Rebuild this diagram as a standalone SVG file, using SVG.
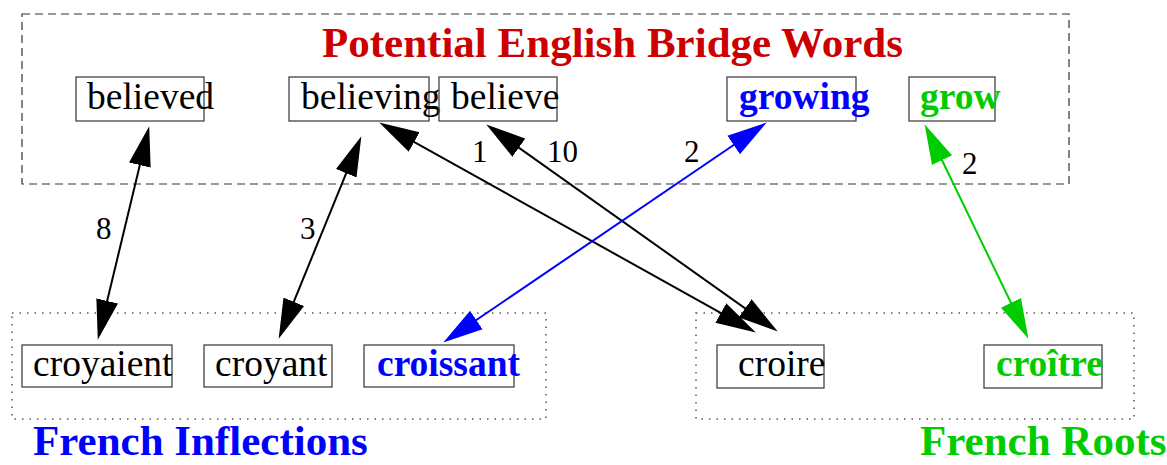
<svg xmlns="http://www.w3.org/2000/svg" width="1167" height="465" viewBox="0 0 1167 465">
<style>
.box{fill:none;stroke:#444;stroke-width:1.3}
.w{font-family:"Liberation Serif","Times New Roman",serif;font-size:37.5px;fill:#000}
.b{font-weight:bold}
.lbl{font-family:"Liberation Serif","Times New Roman",serif;font-size:31px;fill:#000}
.ttl{font-family:"Liberation Serif","Times New Roman",serif;font-size:43px;font-weight:bold}
.edge{stroke-width:2;fill:none}
</style>
<defs>
<marker id="ak" markerUnits="userSpaceOnUse" markerWidth="40" markerHeight="24" viewBox="0 0 36 20" refX="28" refY="10" orient="auto-start-reverse"><path d="M0,0 L36,10 L0,20 Z" fill="#000"/></marker>
<marker id="ab" markerUnits="userSpaceOnUse" markerWidth="40" markerHeight="24" viewBox="0 0 36 20" refX="28" refY="10" orient="auto-start-reverse"><path d="M0,0 L36,10 L0,20 Z" fill="#0000ff"/></marker>
<marker id="ag" markerUnits="userSpaceOnUse" markerWidth="40" markerHeight="24" viewBox="0 0 36 20" refX="28" refY="10" orient="auto-start-reverse"><path d="M0,0 L36,10 L0,20 Z" fill="#00cc00"/></marker>
</defs>
<rect width="1167" height="465" fill="#fff"/>
<g id="clusters">
<rect x="22" y="14" width="1047" height="170" fill="none" stroke="#333" stroke-width="1.2" stroke-dasharray="8,5"/>
<rect x="12" y="313" width="534" height="106" fill="none" stroke="#555" stroke-width="1.5" stroke-dasharray="1.5,6"/>
<rect x="696" y="313" width="438" height="106" fill="none" stroke="#555" stroke-width="1.5" stroke-dasharray="1.5,6"/>
<text class="ttl" x="322" y="57" fill="#cc0000">Potential English Bridge Words</text>
<text class="ttl" x="33" y="455" fill="#0000ff">French Inflections</text>
<text class="ttl" x="920" y="455" fill="#00cc00">French Roots</text>
</g>
<g id="connectors">
<line class="edge" stroke="#000" x1="147.13" y1="134.78" x2="99.87" y2="331.22" marker-start="url(#ak)" marker-end="url(#ak)"/>
<line class="edge" stroke="#000" x1="357.98" y1="144.41" x2="282.02" y2="330.59" marker-start="url(#ak)" marker-end="url(#ak)"/>
<line class="edge" stroke="#000" x1="386.99" y1="126.89" x2="748.01" y2="328.11" marker-start="url(#ak)" marker-end="url(#ak)"/>
<line class="edge" stroke="#000" x1="493.52" y1="129.63" x2="770.48" y2="326.37" marker-start="url(#ak)" marker-end="url(#ak)"/>
<line class="edge" stroke="#0000ff" x1="759.38" y1="127.5" x2="450.62" y2="337.5" marker-start="url(#ab)" marker-end="url(#ab)"/>
<line class="edge" stroke="#00cc00" x1="928.48" y1="132.2" x2="1024.52" y2="330.8" marker-start="url(#ag)" marker-end="url(#ag)"/>
<text class="lbl" x="96" y="239">8</text>
<text class="lbl" x="300" y="239">3</text>
<text class="lbl" x="472" y="162">1</text>
<text class="lbl" x="547" y="162">10</text>
<text class="lbl" x="684" y="162">2</text>
<text class="lbl" x="962" y="174">2</text>
</g>
<g id="believed"><rect class="box" x="76" y="77" width="128" height="44"/><text class="w" x="87" y="109">believed</text></g>
<g id="believing"><rect class="box" x="289" y="77" width="140" height="44"/><text class="w" x="301" y="109">believing</text></g>
<g id="believe"><rect class="box" x="439" y="77" width="118" height="44"/><text class="w" x="451" y="109">believe</text></g>
<g id="growing"><rect class="box" x="727" y="77" width="129" height="44"/><text class="w b" x="739" y="109" style="fill:#0000ff">growing</text></g>
<g id="grow"><rect class="box" x="909" y="77" width="86" height="44"/><text class="w b" x="920" y="109" style="fill:#00cc00">grow</text></g>
<g id="croyaient"><rect class="box" x="22" y="345" width="150" height="42"/><text class="w" x="33" y="376">croyaient</text></g>
<g id="croyant"><rect class="box" x="204" y="345" width="128" height="42"/><text class="w" x="215" y="376">croyant</text></g>
<g id="croissant"><rect class="box" x="364" y="345" width="150" height="42"/><text class="w b" x="377" y="376" style="fill:#0000ff">croissant</text></g>
<g id="croire"><rect class="box" x="717" y="345" width="107" height="43"/><text class="w" x="738" y="376">croire</text></g>
<g id="croitre"><rect class="box" x="984" y="345" width="118" height="43"/><text class="w b" x="996" y="376" style="fill:#00cc00">croître</text></g>
</svg>
